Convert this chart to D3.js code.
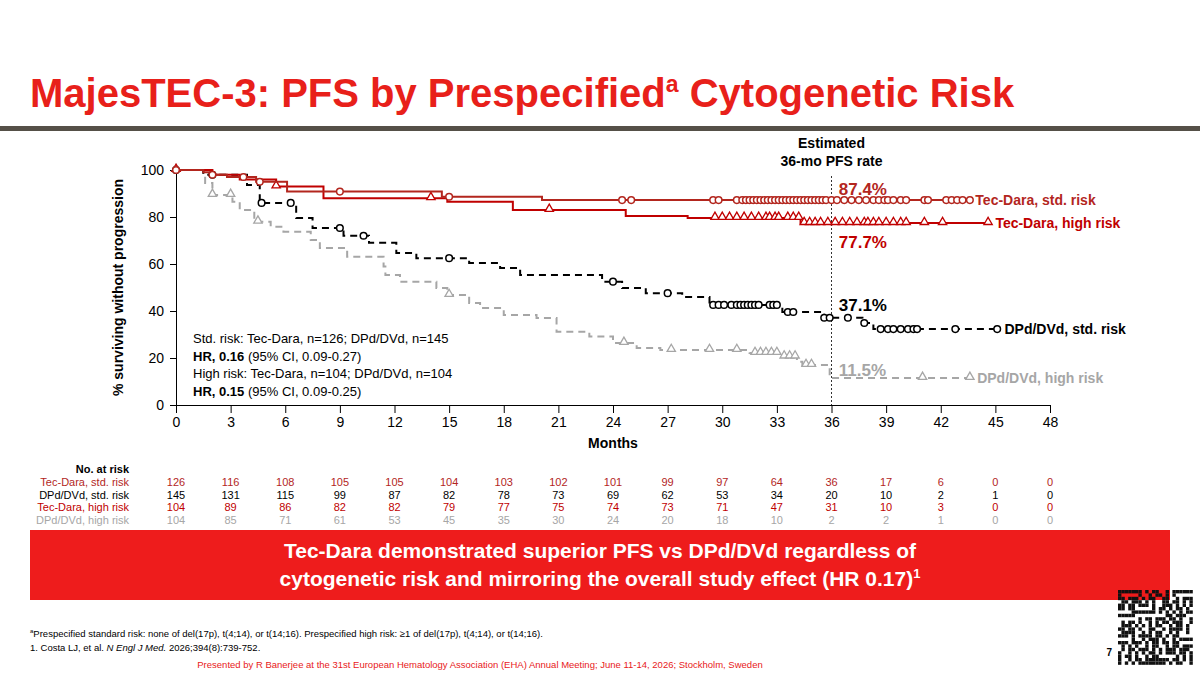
<!DOCTYPE html>
<html>
<head>
<meta charset="UTF-8">
<script src="https://cdn.jsdelivr.net/npm/d3@7"></script>
<style>
  body { margin: 0; background: #fff; }
  svg { font-family: "Liberation Sans", Arial, sans-serif; }
</style>
</head>
<body>
<svg id="slide" width="1200" height="674"></svg>
<script>
const svg = d3.select("#slide");
const RED = "#c00000", DRED = "#b3261e", GREY = "#a6a6a6";

// title
const t = svg.append("text").attr("x", 30).attr("y", 107).attr("fill", "#e8201a")
  .style("font-size", "40px").style("font-weight", "bold");
t.append("tspan").text("MajesTEC-3: PFS by Prespecified");
t.append("tspan").attr("dy", -15).style("font-size", "23px").text("a");
t.append("tspan").attr("dy", 15).text(" Cytogenetic Risk");
svg.append("rect").attr("x", 0).attr("y", 126).attr("width", 1200).attr("height", 5).attr("fill", "#555048");

const margin = { left: 176, top: 170, right: 1050, bottom: 405 };
const x = d3.scaleLinear().domain([0, 48]).range([margin.left, margin.right]);
const y = d3.scaleLinear().domain([0, 100]).range([margin.bottom, margin.top]);

// step points [month, pct]
const series = [
  { name: "tecStd", color: DRED, dash: null, sym: "circle",
    steps: [[0,100],[1.5,99],[2,98],[2.8,97],[4.4,95],[6.1,90.8],[14.6,88.6],[20.1,87.2],[43.6,87.2]],
    cens: [0,2,3.7,4.6,9,15,24.5,25,29.5,29.8,30.8,31.1,31.3,31.5,31.7,31.9,32.1,32.3,32.5,32.7,32.9,33.1,33.3,33.5,33.7,33.9,34.1,34.3,34.5,34.7,34.9,35.1,35.3,35.5,35.7,36,36.3,36.7,37.1,37.5,37.9,38.3,38.6,38.9,39.1,39.4,39.8,40.1,41.1,41.3,42.3,42.6,42.9,43.2,43.6] },
  { name: "tecHigh", color: RED, dash: null, sym: "triangle",
    steps: [[0,100],[2,98],[3.5,96],[5.5,93],[8.1,88],[14.9,86.5],[18.5,83],[24.7,80.4],[28.1,79.6],[34.3,77.4],[44.6,77.4]],
    cens: [0,5.5,14,20.5,29.6,30,30.4,30.8,31.2,31.6,32,32.4,32.6,32.9,33.1,33.6,33.9,34.2,34.5,34.8,35.1,35.4,35.8,36.2,36.6,37,37.4,37.8,38,38.3,38.6,39,39.4,39.8,40.1,41.1,42.1,44.6] },
  { name: "dpdStd", color: "#000", dash: "7,5", sym: "circle",
    steps: [[0,100],[1.5,98],[3.9,93.6],[4.6,86],[6.6,79.6],[7.5,75.3],[9.2,72],[10.6,69],[12.1,64.7],[13.2,62.5],[16.1,60.4],[17.8,58.3],[18.9,55.3],[23.4,52.5],[24.5,49.8],[25.8,47.6],[27.8,46],[29.3,42.6],[33.3,39.6],[35.6,37.1],[37.7,34.9],[38.3,32.3],[45.1,32.3]],
    cens: [0,2,4.7,6.3,9,10.3,15,24,27,29.5,29.8,30.1,30.5,30.8,31,31.2,31.4,31.6,31.8,32,32.6,32.8,33,33.6,33.9,35.6,35.9,36.9,37.8,38.7,39.1,39.4,39.8,40.2,40.5,40.7,42.8,45.1] },
  { name: "dpdHigh", color: GREY, dash: "7,5", sym: "triangle",
    steps: [[0,100],[1.5,98],[1.6,94.5],[2,89.4],[3.1,86.5],[3.5,83],[4.3,78],[5.2,75.9],[5.9,73.7],[7.4,70.2],[7.9,66.8],[9.4,63.1],[11.4,58.9],[11.5,55.3],[12.3,52.5],[14.3,49.8],[14.9,46.8],[16.1,43.4],[16.7,41.3],[18,38.3],[19.8,37],[20.9,31.2],[22.7,29.1],[24,26.4],[25.3,24.3],[26.6,23.4],[31.5,22.1],[33.2,20.6],[34.1,18.4],[34.4,17],[35.9,11.5],[43.6,11.5]],
    cens: [0,2,3,4.5,15,24.6,27.2,29.3,30.8,31.8,32.1,32.4,32.7,33,33.4,33.7,34,34.6,34.9,41,43.6] }
];

// axes
svg.append("g").attr("transform", `translate(0,${margin.bottom})`)
  .call(d3.axisBottom(x).tickValues(d3.range(0, 49, 3)).tickSize(8).tickPadding(4))
  .call(g => g.selectAll("text").style("font-size", "14px").attr("fill", "#000"))
  .call(g => g.selectAll("line,path").attr("stroke", "#000"));
svg.append("g").attr("transform", `translate(${margin.left},0)`)
  .call(d3.axisLeft(y).tickValues([0,20,40,60,80,100]).tickSize(6).tickPadding(6))
  .call(g => g.selectAll("text").style("font-size", "14px").attr("fill", "#000"))
  .call(g => g.selectAll("line,path").attr("stroke", "#000"));
svg.append("text").attr("x", x(24)).attr("y", 448).attr("text-anchor", "middle")
  .style("font-size", "14px").style("font-weight", "bold").text("Months");
svg.append("text").attr("transform", `translate(123,${y(50)}) rotate(-90)`).attr("text-anchor", "middle")
  .style("font-size", "14px").style("font-weight", "bold").text("% surviving without progression");

// 36-month marker
svg.append("line").attr("x1", x(36)).attr("x2", x(36)).attr("y1", 176).attr("y2", margin.bottom)
  .attr("stroke", "#333").attr("stroke-dasharray", "2,2");
svg.append("text").attr("x", x(36)).attr("y", 148).attr("text-anchor", "middle")
  .style("font-size", "14px").style("font-weight", "bold").text("Estimated");
svg.append("text").attr("x", x(36)).attr("y", 166).attr("text-anchor", "middle")
  .style("font-size", "14px").style("font-weight", "bold").text("36-mo PFS rate");

const line = d3.line().x(d => x(d[0])).y(d => y(d[1])).curve(d3.curveStepAfter);
function valAt(s, m) {
  let v = 100;
  s.steps.forEach(p => { if (p[0] <= m) v = p[1]; });
  return v;
}
const tri = d3.symbol().type(d3.symbolTriangle).size(30);
series.slice().reverse().forEach(s => {
  svg.append("path").datum(s.steps).attr("d", line).attr("fill", "none")
    .attr("stroke", s.color).attr("stroke-width", 2).attr("stroke-dasharray", s.dash);
  const g = svg.append("g");
  s.cens.forEach(m => {
    if (s.sym === "circle") {
      g.append("circle").attr("cx", x(m)).attr("cy", y(valAt(s, m))).attr("r", 3.3)
        .attr("fill", "#fff").attr("stroke", s.color).attr("stroke-width", 1.5);
    } else {
      g.append("path").attr("d", tri).attr("transform", `translate(${x(m)},${y(valAt(s, m)) - 1})`)
        .attr("fill", "#fff").attr("stroke", s.color).attr("stroke-width", 1.3);
    }
  });
});

// series labels and rates
const labels = [
  { t: "Tec-Dara, std. risk", m: 43.9, v: 87.2, c: DRED },
  { t: "Tec-Dara, high risk", m: 45, v: 77.4, c: RED },
  { t: "DPd/DVd, std. risk", m: 45.5, v: 32.3, c: "#000" },
  { t: "DPd/DVd, high risk", m: 44, v: 11.5, c: GREY }
];
labels.forEach(l => svg.append("text").attr("x", x(l.m)).attr("y", y(l.v) + 5)
  .attr("fill", l.c).style("font-size", "14px").style("font-weight", "bold").text(l.t));
const rates = [
  { t: "87.4%", v: 92.5, c: DRED }, { t: "77.7%", v: 70, c: RED },
  { t: "37.1%", v: 43, c: "#000" }, { t: "11.5%", v: 15.5, c: GREY }
];
rates.forEach(r => svg.append("text").attr("x", x(36.4)).attr("y", y(r.v) + 7)
  .attr("fill", r.c).style("font-size", "17px").style("font-weight", "bold").text(r.t));

// HR box
const hr = [
  ["", "Std. risk: Tec-Dara, n=126; DPd/DVd, n=145"],
  ["HR, 0.16", " (95% CI, 0.09-0.27)"],
  ["", "High risk: Tec-Dara, n=104; DPd/DVd, n=104"],
  ["HR, 0.15", " (95% CI, 0.09-0.25)"]
];
hr.forEach((h, i) => {
  const tx = svg.append("text").attr("x", 193).attr("y", 343 + i * 17.5).style("font-size", "13px");
  if (h[0]) tx.append("tspan").style("font-weight", "bold").text(h[0]);
  tx.append("tspan").text(h[1]);
});

// number at risk
const risk = [
  { n: "Tec-Dara, std. risk", c: DRED, v: [126,116,108,105,105,104,103,102,101,99,97,64,36,17,6,0,0] },
  { n: "DPd/DVd, std. risk", c: "#000", v: [145,131,115,99,87,82,78,73,69,62,53,34,20,10,2,1,0] },
  { n: "Tec-Dara, high risk", c: RED, v: [104,89,86,82,82,79,77,75,74,73,71,47,31,10,3,0,0] },
  { n: "DPd/DVd, high risk", c: GREY, v: [104,85,71,61,53,45,35,30,24,20,18,10,2,2,1,0,0] }
];
svg.append("text").attr("x", 129).attr("y", 473).attr("text-anchor", "end")
  .style("font-size", "11px").style("font-weight", "bold").text("No. at risk");
risk.forEach((r, i) => {
  const yy = 486 + i * 12.5;
  svg.append("text").attr("x", 129).attr("y", yy).attr("text-anchor", "end")
    .attr("fill", r.c).style("font-size", "11px").text(r.n);
  r.v.forEach((v, j) => svg.append("text").attr("x", x(j * 3)).attr("y", yy).attr("text-anchor", "middle")
    .attr("fill", r.c).style("font-size", "11px").text(v));
});

// banner
svg.append("rect").attr("x", 30).attr("y", 530).attr("width", 1140).attr("height", 70).attr("fill", "#ee1c1c");
svg.append("text").attr("x", 600).attr("y", 558).attr("text-anchor", "middle").attr("fill", "#fff")
  .style("font-size", "21px").style("font-weight", "bold")
  .text("Tec-Dara demonstrated superior PFS vs DPd/DVd regardless of");
const b2 = svg.append("text").attr("x", 600).attr("y", 586).attr("text-anchor", "middle").attr("fill", "#fff")
  .style("font-size", "21px").style("font-weight", "bold");
b2.append("tspan").text("cytogenetic risk and mirroring the overall study effect (HR 0.17)");
b2.append("tspan").attr("dy", -8).style("font-size", "13px").text("1");

// footnotes
const f1 = svg.append("text").attr("x", 30).attr("y", 637).style("font-size", "9.5px");
f1.append("tspan").attr("dy", -4).style("font-size", "6px").text("a");
f1.append("tspan").attr("dy", 4).text("Prespecified standard risk: none of del(17p), t(4;14), or t(14;16). Prespecified high risk: ≥1 of del(17p), t(4;14), or t(14;16).");
const f2 = svg.append("text").attr("x", 30).attr("y", 651).style("font-size", "9.5px");
f2.append("tspan").text("1. Costa LJ, et al. ");
f2.append("tspan").style("font-style", "italic").text("N Engl J Med.");
f2.append("tspan").text(" 2026;394(8):739-752.");
svg.append("text").attr("x", 480).attr("y", 668).attr("text-anchor", "middle").attr("fill", "#e8201a")
  .style("font-size", "9.5px")
  .text("Presented by R Banerjee at the 31st European Hematology Association (EHA) Annual Meeting; June 11-14, 2026; Stockholm, Sweden");
svg.append("text").attr("x", 1112).attr("y", 656).attr("text-anchor", "end").style("font-size", "10px")
  .style("font-weight", "bold").text("7");

// QR-like block
const qr = svg.append("g").attr("transform", "translate(1118,590)");
const cell = 3.4, cells = 22;
const bits = "1111111010110010111111100000100101101010000011011101011001100101110110111010100110110101110110111010011101010111011000001011010110100000111111101010101011111110000000001101110000000010110111011010010101101001010110111001011101010101100101101011011010011001011110100111100101011001010010111010111101101011000000001001011101001011111110111010110110110000010101001011001011011101011011101010111011101001010101101011101101101101001011000001010110010110111111101101011010101";
for (let i = 0; i < cells; i++) for (let j = 0; j < cells; j++) {
  if (bits[(i * cells + j) % bits.length] === "1")
    qr.append("rect").attr("x", j * cell).attr("y", i * cell).attr("width", cell).attr("height", cell).attr("fill", "#111");
}
</script>
</body>
</html>
